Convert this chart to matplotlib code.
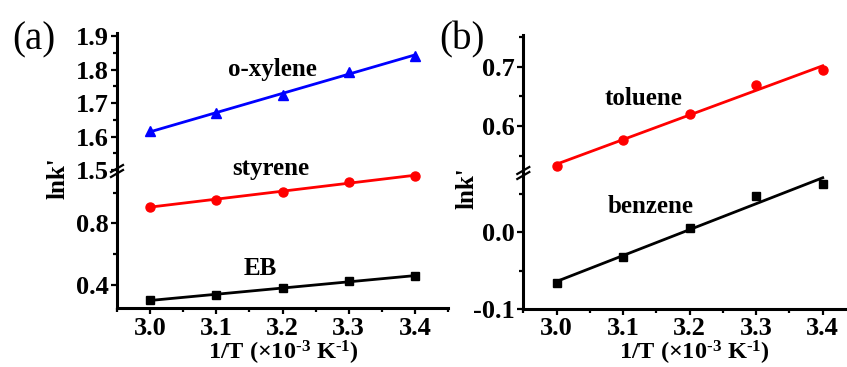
import numpy as np
import matplotlib
matplotlib.use("Agg")
import matplotlib.pyplot as plt
from matplotlib.ticker import MultipleLocator
from matplotlib.lines import Line2D

plt.rcParams['font.family'] = ['Liberation Serif', 'DejaVu Serif']
plt.rcParams['font.weight'] = 'bold'
plt.rcParams['mathtext.fontset'] = 'custom'
plt.rcParams['mathtext.rm'] = 'Liberation Serif:bold'
plt.rcParams['mathtext.bf'] = 'Liberation Serif:bold'
plt.rcParams['mathtext.it'] = 'Liberation Serif:bold:italic'
plt.rcParams['mathtext.default'] = 'rm'

# ---- data ----
inv_T = [3.0, 3.1, 3.2, 3.3, 3.4]
oxylene = [1.616, 1.669, 1.725, 1.793, 1.841]
styrene = [0.908, 0.952, 1.006, 1.071, 1.108]
eb = [0.298, 0.335, 0.376, 0.426, 0.455]
toluene = [0.533, 0.576, 0.621, 0.669, 0.694]
benzene = [-0.0665, -0.032, 0.006, 0.047, 0.063]
xticks = [3.0, 3.1, 3.2, 3.3, 3.4]

W, H = 847, 367
fig = plt.figure(figsize=(W / 100, H / 100), dpi=100)


def pix_axes(left, right, top, bottom):
    return fig.add_axes([left / W, (H - bottom) / H, (right - left) / W, (bottom - top) / H])


def style(ax, bottom_axis):
    for s in ['top', 'right']:
        ax.spines[s].set_visible(False)
    ax.spines['left'].set_linewidth(2.2)
    ax.spines['bottom'].set_linewidth(2.2)
    ax.patch.set_alpha(0)
    ax.tick_params(which='both', direction='out', width=1.6, labelsize=19, pad=2)
    ax.tick_params(which='major', length=4)
    ax.tick_params(which='minor', length=3)
    ax.tick_params(axis='y', pad=2)
    if bottom_axis:
        ax.xaxis.set_minor_locator(MultipleLocator(0.05))
        ax.set_xticks(xticks)
        ax.set_xticklabels([f"{v:.1f}" for v in xticks])
    else:
        ax.spines['bottom'].set_visible(False)
        ax.set_xticks([])
        ax.tick_params(axis='x', which='both', bottom=False, labelbottom=False)


def series(ax, y, color, marker, ms):
    x = np.array(inv_T)
    yv = np.array(y)
    k, b = np.polyfit(x, yv, 1)
    ax.plot(x, yv, linestyle='none', marker=marker, color=color, ms=ms, zorder=3)
    ax.plot([x[0], x[-1]], [k * x[0] + b, k * x[-1] + b], color=color, lw=2, zorder=2)


def break_marks(xpix, ypix):
    for dy in (-2.5, 2.5):
        x0, x1 = xpix - 6, xpix + 6
        y0, y1 = ypix + dy + 3.5, ypix + dy - 3.5
        fig.add_artist(Line2D([x0 / W, x1 / W], [(H - y0) / H, (H - y1) / H],
                              transform=fig.transFigure, color='black', lw=1.6))


HY = '\u2010'
xlabel = '1/T (' + r'$\times$' + '10' + r'$^{' + HY + '3}$' + ' K' + r'$^{' + HY + '1}$' + ')'


def put_xlabel(xc):
    fig.text(xc / W, (H - 359.5) / H, xlabel, ha='center', va='baseline',
             fontsize=17.5, fontweight='bold')


# ---- panel (a) ----
a_top = pix_axes(117, 448, 32.7, 170)
a_bot = pix_axes(117, 448, 170, 308.3)
for ax in (a_top, a_bot):
    ax.set_xlim(2.95, 3.45)
a_top.set_ylim(1.5, 1.91)
a_bot.set_ylim(0.246, 1.147)
style(a_top, False)
style(a_bot, True)
a_top.yaxis.set_minor_locator(MultipleLocator(0.05))
a_bot.yaxis.set_minor_locator(MultipleLocator(0.2))
a_top.set_yticks([1.5, 1.6, 1.7, 1.8, 1.9])
a_top.set_yticklabels(['1.5', '1.6', '1.7', '1.8', '1.9'])
a_bot.set_yticks([0.4, 0.8])
a_bot.set_yticklabels(['0.4', '0.8'])

series(a_top, oxylene, 'blue', '^', 6.5)
series(a_bot, styrene, 'red', 'o', 6.5)
series(a_bot, eb, 'black', 's', 6)
a_top.text(3.185, 1.80, 'o-xylene', ha='center', va='center', fontsize=18)
a_bot.text(3.182, 1.16, 'styrene', ha='center', va='center', fontsize=18)
a_bot.text(3.166, 0.507, 'EB', ha='center', va='center', fontsize=18)
put_xlabel(283)
fig.text(58 / W, (H - 178) / H, "lnk'", rotation=90, ha='center', va='center', fontsize=18)
fig.text(34 / W, (H - 40) / H, '(a)', ha='center', va='center', fontsize=28, fontweight='normal')
break_marks(117, 171)

# ---- panel (b) ----
b_top = pix_axes(523.3, 856, 35, 173)
b_bot = pix_axes(523.3, 856, 173, 309)
for ax in (b_top, b_bot):
    ax.set_xlim(2.95, 3.45)
b_top.set_ylim(0.5207, 0.7535)
b_bot.set_ylim(-0.1, 0.0773)
style(b_top, False)
style(b_bot, True)
b_top.yaxis.set_minor_locator(MultipleLocator(0.05))
b_bot.yaxis.set_minor_locator(MultipleLocator(0.05))
b_top.set_yticks([0.6, 0.7])
b_top.set_yticklabels(['0.6', '0.7'])
b_bot.set_yticks([-0.1, 0.0])
b_bot.set_yticklabels(['-0.1', '0.0'])

series(b_top, toluene, 'red', 'o', 6.5)
series(b_bot, benzene, 'black', 's', 6)
b_top.text(3.131, 0.647, 'toluene', ha='center', va='center', fontsize=18)
b_bot.text(3.141, 0.033, 'benzene', ha='center', va='center', fontsize=18)
put_xlabel(694)
fig.text(467 / W, (H - 188) / H, "lnk'", rotation=90, ha='center', va='center', fontsize=18)
fig.text(462 / W, (H - 40) / H, '(b)', ha='center', va='center', fontsize=28, fontweight='normal')
break_marks(523.3, 173)

fig.savefig('out.png', dpi=100)
